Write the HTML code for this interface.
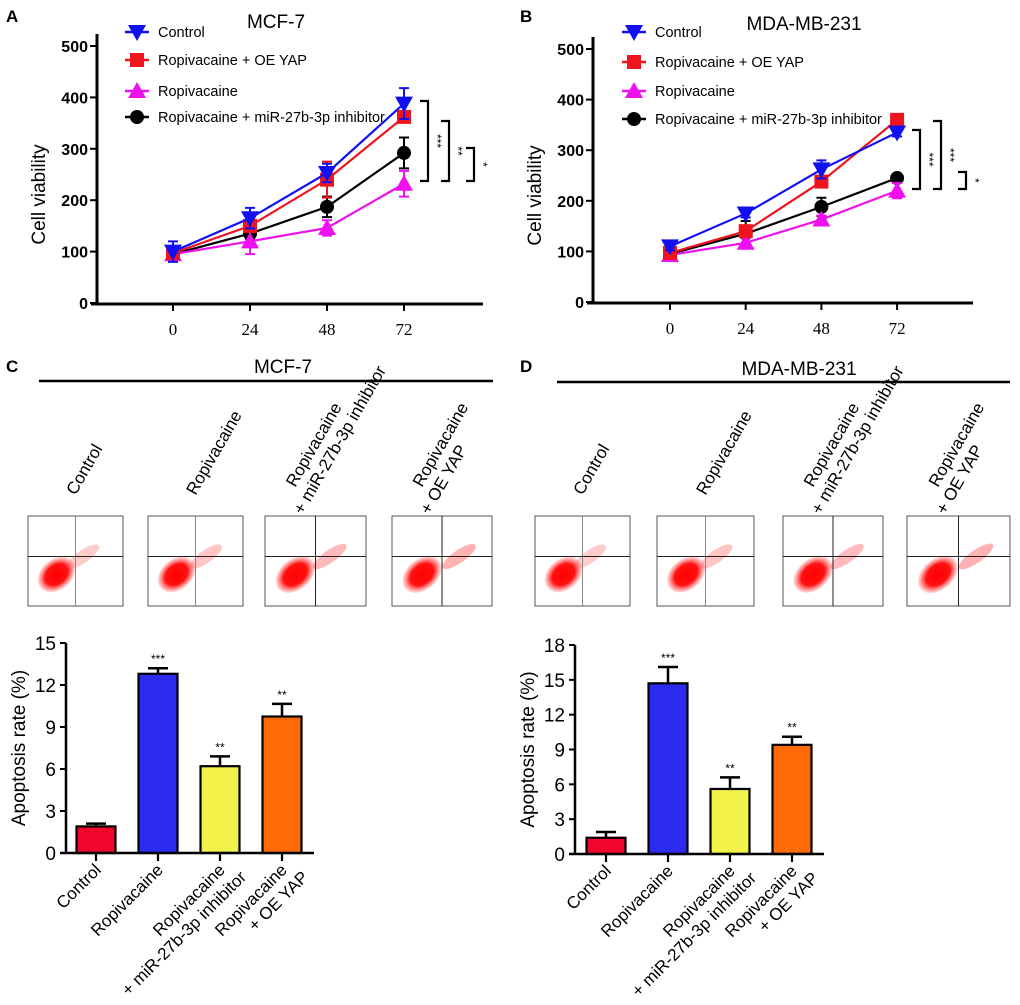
<!DOCTYPE html>
<html><head><meta charset="utf-8"><style>
body{margin:0;background:#fff}
svg{display:block;font-family:"Liberation Sans",Arial,sans-serif}
</style></head><body>
<svg id="fig" width="1020" height="1005" viewBox="0 0 1020 1005" xmlns="http://www.w3.org/2000/svg">
<text x="6" y="22" font-size="17" font-weight="bold">A</text>
<text x="520" y="22" font-size="17" font-weight="bold">B</text>
<text x="6" y="372" font-size="17" font-weight="bold">C</text>
<text x="520" y="372" font-size="17" font-weight="bold">D</text>
<text x="276" y="28" font-size="19" text-anchor="middle">MCF-7</text>
<text x="804" y="30" font-size="19" text-anchor="middle">MDA-MB-231</text>
<text x="283" y="373" font-size="19" text-anchor="middle">MCF-7</text>
<text x="799" y="375" font-size="19" text-anchor="middle">MDA-MB-231</text>
<line x1="39" y1="381" x2="493" y2="381" stroke="#000" stroke-width="2.5"/>
<line x1="557" y1="382" x2="1010" y2="382" stroke="#000" stroke-width="2.5"/>
<g id="root"></g>
</svg>
<script>
// ---- Panel A data (MCF-7 cell viability) ----
const timeLabels = ["0","24","48","72"];
const yTicksLine = [0,100,200,300,400,500];
const seriesNames = ["Control","Ropivacaine  +  OE YAP","Ropivacaine","Ropivacaine  + miR-27b-3p  inhibitor"];
const aControl = [100,165,253,388];
const aControlErr = [20,20,18,30];
const aOeYap = [97,150,240,362];
const aOeYapErr = [8,10,35,10];
const aRopi = [95,120,146,232];
const aRopiErr = [8,25,15,25];
const aInhib = [95,135,187,292];
const aInhibErr = [6,10,20,30];
// ---- Panel B data (MDA-MB-231 cell viability) ----
const bControl = [110,175,262,335];
const bControlErr = [8,8,18,8];
const bOeYap = [97,140,238,360];
const bOeYapErr = [8,10,10,8];
const bRopi = [93,117,163,220];
const bRopiErr = [6,10,8,15];
const bInhib = [95,135,188,245];
const bInhibErr = [5,25,18,5];
// ---- Panel C / D data (apoptosis rate) ----
const barCats = ["Control","Ropivacaine","Ropivacaine|+ miR-27b-3p  inhibitor","Ropivacaine|+  OE YAP"];
const cValues = [1.9,12.8,6.2,9.75];
const cErr = [0.2,0.4,0.7,0.9];
const cSig = ["","***","**","**"];
const cTicks = [0,3,6,9,12,15];
const dValues = [1.4,14.7,5.6,9.4];
const dErr = [0.5,1.4,1.0,0.7];
const dSig = ["","***","**","**"];
const dTicks = [0,3,6,9,12,15,18];
const barColors = ["#f0062d","#2b2cf0","#f2f24a","#ff6a08"];

const NS="http://www.w3.org/2000/svg";
const root=document.getElementById('root');
function mk(tag,attrs,parent){const e=document.createElementNS(NS,tag);for(const k in attrs)e.setAttribute(k,attrs[k]);(parent||root).appendChild(e);return e;}

function marker(g,type,x,y,color){
  let e;
  if(type==="down"){e=mk('polygon',{points:`${x-9},${y-7} ${x+9},${y-7} ${x},${y+9}`,fill:color},g);}
  else if(type==="up"){e=mk('polygon',{points:`${x-9},${y+7} ${x+9},${y+7} ${x},${y-9}`,fill:color},g);}
  else if(type==="square"){e=mk('rect',{x:x-7,y:y-7,width:14,height:14,fill:color},g);}
  else {e=mk('circle',{cx:x,cy:y,r:7,fill:color},g);}
  return e;
}

function lineChart(p){
  const ys=v=>p.y0-(v/500)*(p.y0-p.y500);
  const xs=i=>p.xPos0+i*p.xStep;
  const g=mk('g',{});
  
  
  const ax=mk('path',{d:`M${p.ax},${p.y500-12} V${p.y0+1} M${p.ax-6},${p.y0+1} H${p.axEnd}`,stroke:'#000','stroke-width':3,fill:'none'},g);
  
  
  yTicksLine.forEach(t=>{
    mk('line',{x1:p.ax-7,x2:p.ax,y1:ys(t),y2:ys(t),stroke:'#000','stroke-width':2},g);
    const tx=mk('text',{x:p.ax-9,y:ys(t)+6,'font-size':16,'font-weight':'bold','text-anchor':'end'},g);
    tx.textContent=t;
    
    
  });
  timeLabels.forEach((t,i)=>{
    mk('line',{x1:xs(i),x2:xs(i),y1:p.y0,y2:p.y0+8,stroke:'#000','stroke-width':2},g);
    const tx=mk('text',{x:xs(i),y:p.y0+32,'font-size':17,'text-anchor':'middle','font-family':'Liberation Serif, serif'},g);
    tx.textContent=t;
    
    
  });
  const yl=mk('text',{transform:`translate(${p.ax-52},${(p.y0+p.y500)/2+20}) rotate(-90)`,'font-size':19,'text-anchor':'middle'},g);
  yl.textContent='Cell viability';
  
  
  p.series.forEach(s=>{
    const sg=mk('g',{},g);
    
    
    mk('polyline',{points:s.vals.map((v,i)=>`${xs(i)},${ys(v)}`).join(' '),fill:'none',stroke:s.color,'stroke-width':2.2},sg);
    s.vals.forEach((v,i)=>{
      const x=xs(i),y1=ys(v+s.err[i]),y2=ys(v-s.err[i]);
      mk('path',{d:`M${x},${y1}V${y2}M${x-5},${y1}H${x+5}M${x-5},${y2}H${x+5}`,stroke:s.color,'stroke-width':2,fill:'none'},sg);
      const m=marker(sg,s.shape,x,ys(v),s.color);
      
      
    });
  });
  p.series.forEach(s=>{
    const y=p.legY[s.idx];
    const lg=mk('g',{},g);
    
    
    mk('line',{x1:p.legX,x2:p.legX+24,y1:y,y2:y,stroke:s.color,'stroke-width':2.5},lg);
    marker(lg,s.shape,p.legX+12,y,s.color);
    const t=mk('text',{x:p.legX+33,y:y+5,'font-size':14.5},lg);
    t.textContent=seriesNames[s.idx];
  });
  p.brackets.forEach(b=>{
    const bg=mk('g',{},g);
    
    
    mk('path',{d:`M${b[0]},${b[1]}H${b[0]+8}V${b[2]}H${b[0]}`,stroke:'#000','stroke-width':2.2,fill:'none'},bg);
    const t=mk('text',{transform:`translate(${b[0]+13},${(b[1]+b[2])/2}) rotate(90)`,'font-size':12,'text-anchor':'middle'},bg);
    t.textContent=b[3];
  });
}

lineChart({name:'chart-a',ax:97,axEnd:483,y0:303,y500:46,xPos0:173,xStep:77,legX:125,legY:[32,60,91,117],
  brackets:[[420,101,181,'***'],[441,121,181,'**'],[466,148,181,'*']],
  series:[
    {key:'ropi-inhibitor',idx:3,vals:aInhib,err:aInhibErr,color:'#000',shape:'circle'},
    {key:'ropivacaine',idx:2,vals:aRopi,err:aRopiErr,color:'#ee10ee',shape:'up'},
    {key:'ropi-oe-yap',idx:1,vals:aOeYap,err:aOeYapErr,color:'#f0141e',shape:'square'},
    {key:'control',idx:0,vals:aControl,err:aControlErr,color:'#1010f0',shape:'down'}
  ]});
lineChart({name:'chart-b',ax:593,axEnd:973,y0:302,y500:49,xPos0:670,xStep:75.7,legX:622,legY:[32,62,91,119],
  brackets:[[912,130,189,'***'],[933,121,189,'***'],[958,172,189,'*']],
  series:[
    {key:'ropi-inhibitor',idx:3,vals:bInhib,err:bInhibErr,color:'#000',shape:'circle'},
    {key:'ropivacaine',idx:2,vals:bRopi,err:bRopiErr,color:'#ee10ee',shape:'up'},
    {key:'ropi-oe-yap',idx:1,vals:bOeYap,err:bOeYapErr,color:'#f0141e',shape:'square'},
    {key:'control',idx:0,vals:bControl,err:bControlErr,color:'#1010f0',shape:'down'}
  ]});

function barChart(p){
  const ys=v=>p.y0-(v/p.max)*(p.y0-p.yTop);
  const g=mk('g',{});
  
  
  p.vals.forEach((v,i)=>{
    const cx=p.x0+i*p.step;
    const e=p.err[i];
    mk('path',{d:`M${cx},${ys(v)}V${ys(v+e)}M${cx-10},${ys(v+e)}H${cx+10}`,stroke:'#000','stroke-width':2.5},g);
    const r=mk('rect',{x:cx-19.5,y:ys(v),width:39,height:p.y0-ys(v),fill:barColors[i],stroke:'#000','stroke-width':2.2},g);
    
    
    if(p.sig[i]){const s=mk('text',{x:cx,y:ys(v+e)-5,'font-size':12,'text-anchor':'middle'},g);s.textContent=p.sig[i];}
    mk('line',{x1:cx,x2:cx,y1:p.y0,y2:p.y0+8,stroke:'#000','stroke-width':2.2},g);
    const parts=barCats[i].split('|');
    const t=mk('text',{transform:`translate(${cx+6},${p.y0+18}) rotate(-45)`,'font-size':17,'text-anchor':'end'},g);
    
    
    parts.forEach((s,k)=>{const ts=mk('tspan',{x:k?10:0,dy:k?20:0},t);ts.textContent=s;});
  });
  mk('path',{d:`M${p.ax},${p.yTop}V${p.y0}M${p.ax-6},${p.y0}H${p.axEnd}`,stroke:'#000','stroke-width':2.5,fill:'none'},g);
  p.ticks.forEach(t=>{
    mk('line',{x1:p.ax-6,x2:p.ax,y1:ys(t),y2:ys(t),stroke:'#000','stroke-width':2},g);
    const tx=mk('text',{x:p.ax-10,y:ys(t)+7,'font-size':19,'text-anchor':'end'},g);
    tx.textContent=t;
    
    
  });
  const yl=mk('text',{transform:`translate(${p.ax-41},${(p.y0+p.yTop)/2}) rotate(-90)`,'font-size':19,'text-anchor':'middle'},g);
  yl.textContent='Apoptosis rate (%)';
  
  
}
barChart({name:'chart-c',ax:66,axEnd:314,y0:853,yTop:643,max:15,x0:96,step:62,vals:cValues,err:cErr,sig:cSig,ticks:cTicks});
barChart({name:'chart-d',ax:575,axEnd:824,y0:854,yTop:645,max:18,x0:606,step:62,vals:dValues,err:dErr,sig:dSig,ticks:dTicks});

// flow cytometry thumbnails (decorative images)
const flowNames=["Control","Ropivacaine","Ropivacaine|+ miR-27b-3p  inhibitor","Ropivacaine|+  OE YAP"];
const defs=mk('defs',{});
const rg=mk('radialGradient',{id:'cloud'},defs);
mk('stop',{offset:'0','stop-color':'#f00'},rg);
mk('stop',{offset:'0.6','stop-color':'#f11'},rg);
mk('stop',{offset:'1','stop-color':'#f44','stop-opacity':'0.15'},rg);
function flow(x,w,idx,panel){
  const g=mk('g',{});
  
  
  const y=516,h=90;
  mk('rect',{x,y,width:w,height:h,fill:'#fff',stroke:'#555','stroke-width':1},g);
  const cx=x+w*0.3,cy=y+h*0.65;
  mk('ellipse',{cx,cy,rx:w*0.22,ry:h*0.17,fill:'url(#cloud)',transform:`rotate(-40 ${cx} ${cy})`},g);
  const c2x=x+w*(0.58+idx*0.03),c2y=y+h*0.45;
  mk('ellipse',{cx:c2x,cy:c2y,rx:w*0.2,ry:h*0.07,fill:'#f55',opacity:0.3+idx*0.05,transform:`rotate(-35 ${c2x} ${c2y})`},g);
  mk('line',{x1:x+w*0.5,x2:x+w*0.5,y1:y,y2:y+h,stroke:idx>1?'#222':'#888','stroke-width':1},g);
  mk('line',{x1:x,x2:x+w,y1:y+h*0.45,y2:y+h*0.45,stroke:'#222','stroke-width':1},g);
  const parts=flowNames[idx].split('|');
  const t=mk('text',{transform:`translate(${x+w*0.5},${y-20}) rotate(-60)`,'font-size':17},g);
  
  
  parts.forEach((s,k)=>{const ts=mk('tspan',{x:k?-20:0,dy:k?20:0},t);ts.textContent=s;});
  if(parts.length>1){t.setAttribute('transform',`translate(${x+w*0.3},${y-28}) rotate(-60)`);}
}
[[28,95],[148,95],[265,101],[392,100]].forEach((a,i)=>flow(a[0],a[1],i,'c'));
[[535,95],[657,97],[783,100],[907,103]].forEach((a,i)=>flow(a[0],a[1],i,'d'));
</script>
</body></html>
